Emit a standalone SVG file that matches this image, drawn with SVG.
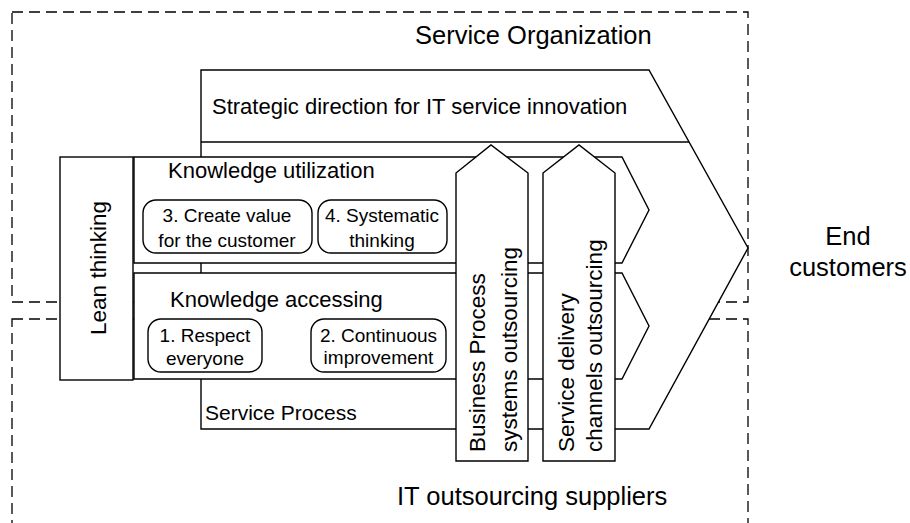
<svg xmlns="http://www.w3.org/2000/svg" width="910" height="523" viewBox="0 0 910 523">
<style>
text{font-family:"Liberation Sans",Arial,sans-serif;fill:#000}
.dash{fill:none;stroke:#000;stroke-width:1.3;stroke-dasharray:11 6}
.sh{fill:#fff;stroke:#000;stroke-width:1.4;stroke-linejoin:miter}
.big{font-size:25.5px}
.mid{font-size:22px}
.rot{font-size:22.5px}
.sm{font-size:19px}
.c{text-anchor:middle}
</style>
<rect width="910" height="523" fill="#fff"/>
<g id="service-organization">
<rect class="dash" x="12" y="12" width="736" height="290"/>
<text class="big" x="415" y="44">Service Organization</text>
</g>
<g id="it-outsourcing-suppliers">
<rect class="dash" x="12" y="319" width="736" height="220"/>
<text class="big" x="397" y="505">IT outsourcing suppliers</text>
</g>
<g id="service-process">
<polygon class="sh" points="201,70 649,70 748,248 649,429 201,429"/>
<line x1="201" y1="142" x2="689" y2="142" stroke="#000" stroke-width="1.4"/>
<text class="mid" x="212" y="114">Strategic direction for IT service innovation</text>
<text style="font-size:21px" x="205" y="420">Service Process</text>
</g>
<g id="lean-thinking">
<rect class="sh" x="60" y="157" width="73" height="223"/>
<text class="rot c" transform="translate(106,268) rotate(-90)">Lean thinking</text>
</g>
<g id="knowledge-utilization">
<polygon class="sh" points="134,157 622,157 649,210 622,263 134,263"/>
<text class="mid" x="168" y="178">Knowledge utilization</text>
</g>
<g id="knowledge-accessing">
<polygon class="sh" points="134,273 622,273 649,326 622,379 134,379"/>
<text class="mid" x="170" y="307">Knowledge accessing</text>
</g>
<g id="create-value">
<rect class="sh" x="143" y="200" width="169" height="53" rx="13"/>
<text class="sm c" x="227" y="222">3. Create value</text>
<text class="sm c" x="227" y="247">for the customer</text>
</g>
<g id="systematic-thinking">
<rect class="sh" x="318" y="200" width="129" height="53" rx="13"/>
<text class="sm c" x="382" y="222">4. Systematic</text>
<text class="sm c" x="382" y="247">thinking</text>
</g>
<g id="respect-everyone">
<rect class="sh" x="148" y="319" width="114" height="53" rx="13"/>
<text class="sm c" x="205" y="342">1. Respect</text>
<text class="sm c" x="205" y="365">everyone</text>
</g>
<g id="continuous-improvement">
<rect class="sh" x="311" y="319" width="135" height="53" rx="13"/>
<text class="sm c" x="378.5" y="342">2. Continuous</text>
<text class="sm c" x="378.5" y="364">improvement</text>
</g>
<g id="business-process-outsourcing">
<polygon class="sh" points="456,173 491,145 528,173 528,461 456,461"/>
<text class="rot" transform="translate(485,452) rotate(-90)">Business Process</text>
<text class="rot" transform="translate(517,452) rotate(-90)">systems outsourcing</text>
</g>
<g id="service-delivery-outsourcing">
<polygon class="sh" points="543,173 579,145 615,173 615,461 543,461"/>
<text class="rot" transform="translate(574,452) rotate(-90)">Service delivery</text>
<text class="rot" transform="translate(602,452) rotate(-90)">channels outsourcing</text>
</g>
<g id="end-customers">
<text class="big c" x="848" y="245">End</text>
<text class="big c" x="848" y="276">customers</text>
</g>
<g id="connectors"></g>
</svg>
